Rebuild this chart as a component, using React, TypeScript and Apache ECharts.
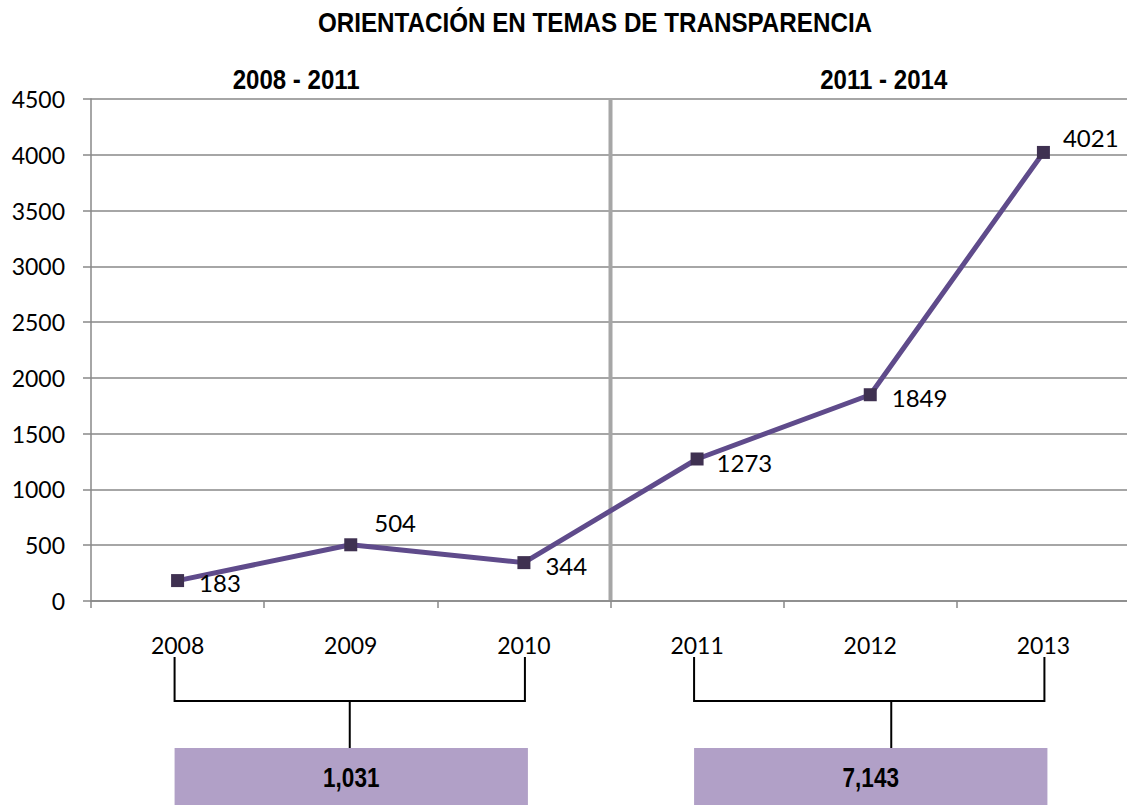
import React, { useEffect, useRef } from "react";
import * as echarts from "echarts";

const title = "ORIENTACIÓN EN TEMAS DE TRANSPARENCIA";
const years = ["2008", "2009", "2010", "2011", "2012", "2013"];
const values = [183, 504, 344, 1273, 1849, 4021];
const periods = ["2008 - 2011", "2011 - 2014"];
const periodRanges = [
  [0, 2],
  [3, 5],
];
const yMin = 0;
const yMax = 4500;
const yStep = 500;

const BOLD = "'Liberation Sans', Arial, sans-serif";
const BODY = "Lato, 'Open Sans', sans-serif";

function boldText(text: string, x: number, y: number, size: number, sx: number) {
  return {
    type: "text",
    x,
    y,
    scaleX: sx,
    style: {
      text,
      fontFamily: BOLD,
      fontWeight: "bold",
      fontSize: size,
      fill: "#000",
      align: "center",
      verticalAlign: "middle",
    },
    z: 10,
  };
}

export default function App() {
  const ref = useRef<HTMLDivElement>(null);
  useEffect(() => {
    if (!ref.current) return;
    const chart = echarts.init(ref.current, null, { renderer: "svg" });
    const labelOffsets: number[][] = [
      [0, 2],
      [2, -22],
      [0, 3],
      [-2, 4],
      [0, 3],
      [-2, -15],
    ];
    chart.setOption({
      animation: false,
      grid: { left: 91, right: 10, top: 99, bottom: 204, containLabel: false },
      xAxis: {
        type: "category",
        data: years,
        boundaryGap: true,
        axisLine: { lineStyle: { color: "#888", width: 1.5 } },
        axisTick: { show: true, length: 7, lineStyle: { color: "#888", width: 1.5 } },
        axisLabel: { margin: 32, fontFamily: BODY, fontSize: 23, color: "#000" },
      },
      yAxis: {
        type: "value",
        min: yMin,
        max: yMax,
        interval: yStep,
        axisLine: { show: true, lineStyle: { color: "#888", width: 1.5 } },
        axisTick: { show: true, length: 8, lineStyle: { color: "#888", width: 1.5 } },
        axisLabel: {
          margin: 26,
          fontFamily: BODY,
          fontSize: 23,
          color: "#000",
          formatter: (v: number) => String(v),
        },
        splitLine: { lineStyle: { color: "#888", width: 1.5 } },
      },
      series: [
        {
          type: "line",
          data: values.map((v, i) => ({
            value: v,
            label: { offset: labelOffsets[i] },
          })),
          lineStyle: { color: "#5f4b8b", width: 5 },
          itemStyle: { color: "#3f3151" },
          symbol: "rect",
          symbolSize: 13,
          label: {
            show: true,
            position: "right",
            distance: 15,
            fontFamily: BODY,
            fontSize: 24,
            color: "#000",
          },
          z: 5,
        },
      ],
    });

    const px = (i: number) => chart.convertToPixel({ xAxisIndex: 0 }, years[i]) as number;
    const py = (v: number) => chart.convertToPixel({ yAxisIndex: 0 }, v) as number;
    const bw = px(1) - px(0);
    const sepX = px(2) + bw / 2;
    const yTop = py(yMax);
    const yBot = py(yMin);
    const plotLeft = px(0) - bw / 2;
    const plotRight = px(5) + bw / 2;

    const graphics: any[] = [
      {
        type: "line",
        shape: { x1: sepX, y1: yTop, x2: sepX, y2: yBot - 1 },
        style: { stroke: "#a6a6a6", lineWidth: 4 },
        z: 3,
      },
      boldText(title, 595, 22, 27.5, 0.88),
      boldText(periods[0], plotLeft + (sepX - plotLeft) * 0.395, 79, 27.5, 0.875),
      boldText(periods[1], sepX + (plotRight - sepX) * 0.526, 79, 27.5, 0.875),
    ];

    const bracketTop = 657;
    const bracketMid = 701;
    const boxTop = 748;
    const boxBottom = 805;
    periodRanges.forEach(([a, b], k) => {
      const xa = px(a) - 3;
      const xb = px(b) + 1;
      const xc = k === 0 ? (xa + xb) / 2 : px(a + 1) + 21;
      const total = values.slice(a, b + 1).reduce((s, v) => s + v, 0);
      graphics.push({
        type: "polyline",
        shape: {
          points: [
            [xa, bracketTop],
            [xa, bracketMid],
            [xb, bracketMid],
            [xb, bracketTop],
          ],
        },
        style: { stroke: "#000", lineWidth: 2, fill: "none" },
      });
      graphics.push({
        type: "line",
        shape: { x1: xc, y1: bracketMid, x2: xc, y2: boxTop },
        style: { stroke: "#000", lineWidth: 2 },
      });
      graphics.push({
        type: "rect",
        shape: { x: xa, y: boxTop, width: xb + 3 - xa, height: boxBottom - boxTop },
        style: { fill: "#b1a0c7" },
      });
      graphics.push(
        boldText(total.toLocaleString("en-US"), (xa + xb + 3) / 2, (boxTop + boxBottom) / 2 + 1, 27.5, 0.82)
      );
    });

    chart.setOption({ graphic: graphics });
    return () => chart.dispose();
  }, []);

  return (
    <div
      style={{
        position: "fixed",
        left: 0,
        top: 0,
        width: 1127,
        height: 805,
        overflow: "hidden",
        background: "#fff",
      }}
    >
      <div ref={ref} style={{ width: 1140, height: 805 }} />
    </div>
  );
}
